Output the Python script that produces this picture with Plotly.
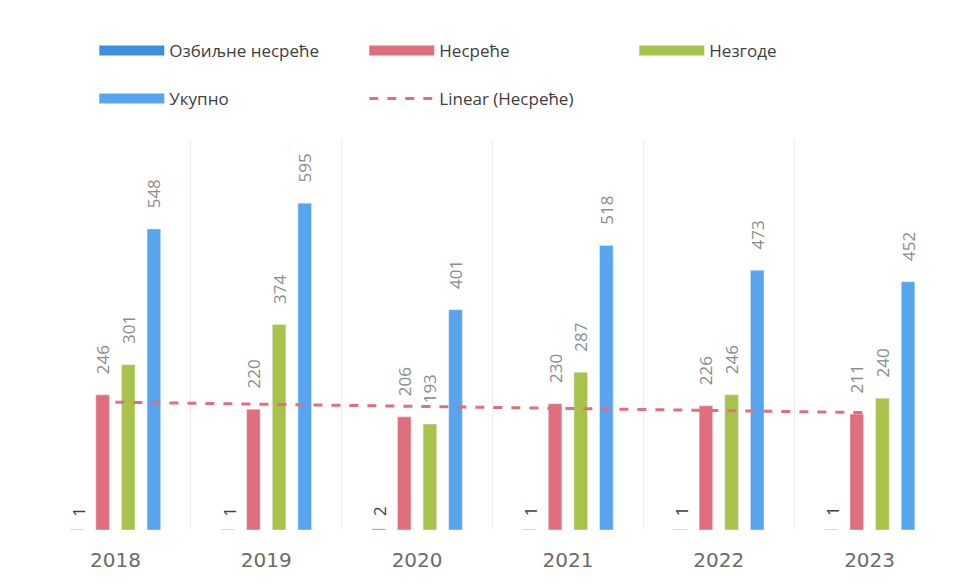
import plotly.graph_objects as go

years = ['2018', '2019', '2020', '2021', '2022', '2023']
ozbiljne = [1, 1, 2, 1, 1, 1]
nesrece = [246, 220, 206, 230, 226, 211]
nezgode = [301, 374, 193, 287, 246, 240]
ukupno = [548, 595, 401, 518, 473, 452]
# linear trend of Несреће, read at first and last year
trend_years = ['2018', '2023']
trend_values = [232.7, 213.7]

FONT = 'Open Sans'
series = [
    ('Озбиљне несреће', ozbiljne, '#3f8fe0', 'legend'),
    ('Несреће', nesrece, '#df6f7d', 'legend'),
    ('Незгоде', nezgode, '#a9c24c', 'legend'),
    ('Укупно', ukupno, '#58a4ef', 'legend2'),
]

fig = go.Figure()
for i, (name, vals, color, lg) in enumerate(series):
    bar = go.Bar(x=years, y=vals, marker_color=color, showlegend=False, cliponaxis=False)
    if i > 0:
        bar.update(texttemplate='\u00a0\u00a0\u00a0\u00a0%{y}', textposition='outside',
                   textangle=-90, constraintext='none',
                   textfont=dict(family=FONT, size=17, color='#8c8c8c'))
    fig.add_trace(bar)

fig.add_trace(go.Scatter(x=trend_years, y=trend_values, mode='lines', showlegend=False,
                         line=dict(color='#df6f7d', width=3, dash='dash')))

# legend entries (wide swatches)
for name, vals, color, lg in series:
    fig.add_trace(go.Scatter(x=[None], y=[None], mode='lines', name=name, legend=lg,
                             line=dict(color=color, width=12)))
fig.add_trace(go.Scatter(x=[None], y=[None], mode='lines', name='Linear (Несреће)',
                         legend='legend2',
                         line=dict(color='#df6f7d', width=3, dash='dash')))

# labels of the tiny "Озбиљне несреће" bars (category axis -> index positions)
for idx, v in enumerate(ozbiljne):
    fig.add_annotation(x=idx, y=v, xref='x', yref='y', text=str(v), showarrow=False,
                       textangle=-90, xshift=-37, yshift=18,
                       font=dict(family=FONT, size=17, color='#404040'))

legend_style = dict(orientation='h', xref='paper', yref='container',
                    yanchor='top', xanchor='left',
                    itemwidth=65, entrywidth=190, tracegroupgap=0,
                    font=dict(family=FONT, size=17, color='#404040'))

fig.update_layout(
    width=954, height=583,
    margin=dict(l=32, r=17, t=132, b=61),
    plot_bgcolor='white', paper_bgcolor='white',
    barmode='group', bargap=0.32, bargroupgap=0.47,
    legend=dict(legend_style, x=0.06, y=1 - 25 / 583),
    legend2=dict(legend_style, x=0.06, y=1 - 73 / 583),
    xaxis=dict(type='category', showgrid=True, gridcolor='#ececec', tickson='boundaries',
               ticks='', showline=False, zeroline=False, ticklabelstandoff=16,
               tickfont=dict(family='DejaVu Sans', size=20, color='#6a6a6a')),
    yaxis=dict(visible=False, range=[0, 710]),
)

fig.write_html('out.html')
